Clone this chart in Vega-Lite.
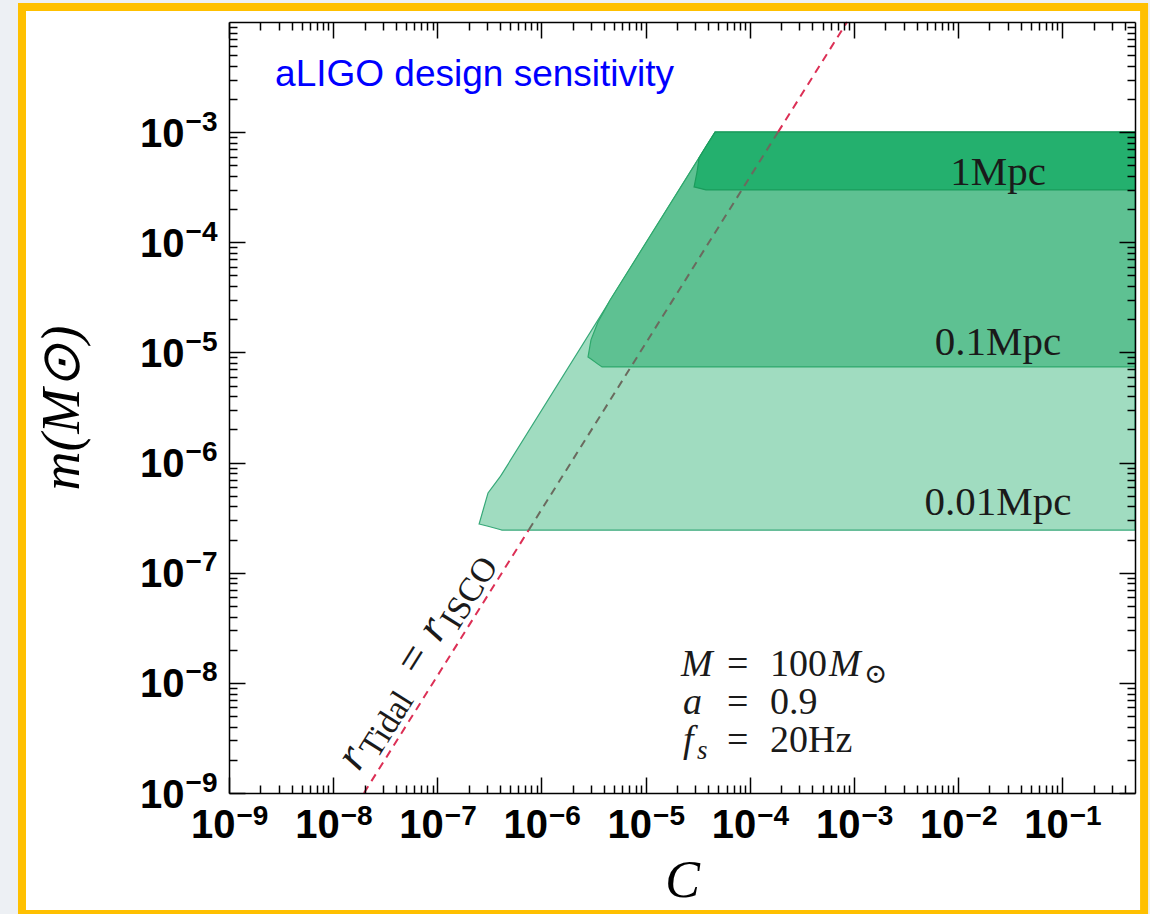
{
  "$schema": "https://vega.github.io/schema/vega-lite/v6.json",
  "width": 906,
  "height": 771,
  "autosize": {"type": "none"},
  "padding": {"left": 229, "top": 22, "right": 15, "bottom": 121},
  "background": "#edf0f4",
  "config": {"view": {"stroke": null}, "axis": {"grid": false}},
  "datasets": {
    "faint": [
      {"C": 2.52e-7, "lo": 2.77e-7, "hi": 2.77e-7},
      {"C": 3.07e-7, "lo": 2.64e-7, "hi": 5.3e-7},
      {"C": 4.0e-7, "lo": 2.47e-7, "hi": 7.4e-7},
      {"C": 4.18e-7, "lo": 2.44e-7, "hi": 7.9e-7},
      {"C": 4.65e-5, "lo": 2.44e-7, "hi": 1e-3},
      {"C": 0.5, "lo": 2.44e-7, "hi": 1e-3}
    ],
    "mid": [
      {"C": 2.80e-6, "lo": 9.1e-6, "hi": 9.1e-6},
      {"C": 2.99e-6, "lo": 8.7e-6, "hi": 1.30e-5},
      {"C": 3.49e-6, "lo": 7.83e-6, "hi": 1.89e-5},
      {"C": 3.82e-6, "lo": 7.38e-6, "hi": 2.2e-5},
      {"C": 4.56e-6, "lo": 7.38e-6, "hi": 2.99e-5},
      {"C": 4.65e-5, "lo": 7.38e-6, "hi": 1e-3},
      {"C": 0.5, "lo": 7.38e-6, "hi": 1e-3}
    ],
    "deep": [
      {"C": 2.92e-5, "lo": 3.18e-4, "hi": 3.18e-4},
      {"C": 3.12e-5, "lo": 3.13e-4, "hi": 4.35e-4},
      {"C": 3.26e-5, "lo": 3.10e-4, "hi": 5.82e-4},
      {"C": 3.80e-5, "lo": 2.99e-4, "hi": 7.4e-4},
      {"C": 4.65e-5, "lo": 2.99e-4, "hi": 1e-3},
      {"C": 0.5, "lo": 2.99e-4, "hi": 1e-3}
    ],
    "tidal": [
      {"C": 1.977e-8, "m": 1e-9, "part": "a", "tone": "outside"},
      {"C": 7.546e-7, "m": 2.44e-7, "part": "a", "tone": "outside"},
      {"C": 7.546e-7, "m": 2.44e-7, "part": "b", "tone": "inside"},
      {"C": 1.868e-4, "m": 1e-3, "part": "b", "tone": "inside"},
      {"C": 1.868e-4, "m": 1e-3, "part": "c", "tone": "outside"},
      {"C": 8.59e-4, "m": 1e-2, "part": "c", "tone": "outside"}
    ],
    "bands": [
      {"C": 0.0242, "m": 3.31e-4, "txt": "1Mpc"},
      {"C": 0.0242, "m": 9.48e-6, "txt": "0.1Mpc"},
      {"C": 0.0242, "m": 3.34e-7, "txt": "0.01Mpc"}
    ],
    "headline": [
      {"C": 2.77e-9, "m": 2.62e-3, "txt": "aLIGO design sensitivity"}
    ],
    "paramSymbols": [
      {"C": 2.187e-5, "m": 1.154e-8, "txt": "M"},
      {"C": 5.766e-4, "m": 1.154e-8, "txt": "M"},
      {"C": 2.286e-5, "m": 5.216e-9, "txt": "a"},
      {"C": 2.286e-5, "m": 2.357e-9, "txt": "f"}
    ],
    "paramValues": [
      {"C": 6.047e-5, "m": 1.154e-8, "txt": "="},
      {"C": 1.564e-4, "m": 1.154e-8, "txt": "100"},
      {"C": 6.047e-5, "m": 5.216e-9, "txt": "="},
      {"C": 1.564e-4, "m": 5.216e-9, "txt": "0.9"},
      {"C": 6.047e-5, "m": 2.357e-9, "txt": "="},
      {"C": 1.564e-4, "m": 2.357e-9, "txt": "20Hz"}
    ],
    "paramSubs": [
      {"C": 3.115e-5, "m": 2.035e-9, "txt": "s"}
    ],
    "paramSun": [
      {"C": 1.250e-3, "m": 9.97e-9, "txt": "\u2299"}
    ],
    "radiusSymbols": [
      {"C": 1.763e-8, "m": 1.545e-9, "txt": "r"},
      {"C": 1.050e-7, "m": 2.279e-8, "txt": "r"}
    ],
    "radiusEquals": [
      {"C": 6.567e-8, "m": 1.122e-8, "txt": "="}
    ],
    "radiusSubs": [
      {"C": 2.638e-8, "m": 1.991e-9, "txt": "Tidal"},
      {"C": 1.571e-7, "m": 2.938e-8, "txt": "ISCO"}
    ]
  },
  "layer": [
    {
      "data": {"values": [{}]},
      "mark": {"type": "rect", "fill": "white", "stroke": "#ffc000", "strokeWidth": 8, "clip": false},
      "encoding": {
        "x": {"datum": 1.029e-11, "type": "quantitative", "scale": {"type": "log", "domain": [1e-9, 0.5], "nice": false}, "axis": null},
        "x2": {"datum": 0.6111},
        "y": {"datum": 7.96e-11, "type": "quantitative", "scale": {"type": "log", "domain": [1e-9, 0.01], "nice": false}, "axis": null},
        "y2": {"datum": 0.01369}
      }
    },
    {
      "data": {"name": "faint"},
      "mark": {"type": "area", "fill": "#a0dcc0", "stroke": "#36a878", "strokeWidth": 1.2},
      "encoding": {
        "x": {"field": "C", "type": "quantitative", "scale": {"type": "log", "domain": [1e-9, 0.5], "nice": false},
          "axis": {"orient": "bottom", "values": [1e-9, 1e-8, 1e-7, 1e-6, 1e-5, 1e-4, 1e-3, 1e-2, 1e-1],
            "labelExpr": "'10'",
            "tickSize": -16, "tickWidth": 1.5, "tickColor": "black", "domainColor": "black", "domainWidth": 1.5,
            "labelFont": "Liberation Sans", "labelFontWeight": "bold", "labelFontSize": 40, "labelColor": "black",
            "labelPadding": 60, "labelBaseline": "alphabetic", "labelAlign": "right", "labelOffset": 6, "labelFlush": false, "labelOverlap": false,
            "title": "C", "titleFont": "Liberation Serif", "titleFontStyle": "italic", "titleFontWeight": "normal", "titleFontSize": 52, "titleColor": "black", "titlePadding": 10,
            "zindex": 1}},
        "y": {"field": "lo", "type": "quantitative", "scale": {"type": "log", "domain": [1e-9, 0.01], "nice": false},
          "axis": {"orient": "left", "values": [1e-9, 1e-8, 1e-7, 1e-6, 1e-5, 1e-4, 1e-3],
            "labelExpr": "'10'",
            "tickSize": -16, "tickWidth": 1.5, "tickColor": "black", "domainColor": "black", "domainWidth": 1.5,
            "labelFont": "Liberation Sans", "labelFontWeight": "bold", "labelFontSize": 40, "labelColor": "black",
            "labelPadding": 61, "labelBaseline": "alphabetic", "labelAlign": "right", "labelOffset": 14, "labelFlush": false, "labelOverlap": false,
            "title": "m(M\u2299)", "titleFont": "Liberation Serif", "titleFontStyle": "italic", "titleFontWeight": "normal", "titleFontSize": 54, "titleColor": "black", "titlePadding": 50,
            "zindex": 1}},
        "y2": {"field": "hi"}
      }
    },
    {
      "data": {"name": "mid"},
      "mark": {"type": "area", "fill": "#5ec192", "stroke": "#2ea86c", "strokeWidth": 1.2},
      "encoding": {
        "x": {"field": "C", "type": "quantitative", "scale": {"type": "log", "domain": [1e-9, 0.5], "nice": false},
          "axis": {"orient": "top", "values": [1e-9, 1e-8, 1e-7, 1e-6, 1e-5, 1e-4, 1e-3, 1e-2, 1e-1],
            "labels": false, "tickSize": -16, "tickWidth": 1.5, "tickColor": "black", "domainColor": "black", "domainWidth": 1.5,
            "title": null, "zindex": 1}},
        "y": {"field": "lo", "type": "quantitative", "scale": {"type": "log", "domain": [1e-9, 0.01], "nice": false},
          "axis": {"orient": "right", "values": [1e-9, 1e-8, 1e-7, 1e-6, 1e-5, 1e-4, 1e-3],
            "labels": false, "tickSize": -16, "tickWidth": 1.5, "tickColor": "black", "domainColor": "black", "domainWidth": 1.5,
            "title": null, "zindex": 1}},
        "y2": {"field": "hi"}
      }
    },
    {
      "data": {"name": "deep"},
      "mark": {"type": "area", "fill": "#24b06e", "stroke": "#1a9c5c", "strokeWidth": 1.2},
      "encoding": {
        "x": {"field": "C", "type": "quantitative", "scale": {"type": "log", "domain": [1e-9, 0.5], "nice": false},
          "axis": {"orient": "bottom", "values": [2e-9, 3e-9, 4e-9, 5e-9, 6e-9, 7e-9, 8e-9, 9e-9, 2e-8, 3e-8, 4e-8, 5e-8, 6e-8, 7e-8, 8e-8, 9e-8, 2e-7, 3e-7, 4e-7, 5e-7, 6e-7, 7e-7, 8e-7, 9e-7, 2e-6, 3e-6, 4e-6, 5e-6, 6e-6, 7e-6, 8e-6, 9e-6, 2e-5, 3e-5, 4e-5, 5e-5, 6e-5, 7e-5, 8e-5, 9e-5, 2e-4, 3e-4, 4e-4, 5e-4, 6e-4, 7e-4, 8e-4, 9e-4, 2e-3, 3e-3, 4e-3, 5e-3, 6e-3, 7e-3, 8e-3, 9e-3, 2e-2, 3e-2, 4e-2, 5e-2, 6e-2, 7e-2, 8e-2, 9e-2, 0.2, 0.3, 0.4],
            "labels": false, "domain": false, "tickSize": -8, "tickWidth": 1.5, "tickColor": "black",
            "title": null, "zindex": 1}},
        "y": {"field": "lo", "type": "quantitative", "scale": {"type": "log", "domain": [1e-9, 0.01], "nice": false},
          "axis": {"orient": "left", "values": [2e-9, 3e-9, 4e-9, 5e-9, 6e-9, 7e-9, 8e-9, 9e-9, 2e-8, 3e-8, 4e-8, 5e-8, 6e-8, 7e-8, 8e-8, 9e-8, 2e-7, 3e-7, 4e-7, 5e-7, 6e-7, 7e-7, 8e-7, 9e-7, 2e-6, 3e-6, 4e-6, 5e-6, 6e-6, 7e-6, 8e-6, 9e-6, 2e-5, 3e-5, 4e-5, 5e-5, 6e-5, 7e-5, 8e-5, 9e-5, 2e-4, 3e-4, 4e-4, 5e-4, 6e-4, 7e-4, 8e-4, 9e-4, 2e-3, 3e-3, 4e-3, 5e-3, 6e-3, 7e-3, 8e-3, 9e-3],
            "labels": false, "domain": false, "tickSize": -8, "tickWidth": 1.5, "tickColor": "black",
            "title": null, "zindex": 1}},
        "y2": {"field": "hi"}
      }
    },
    {
      "mark": {"type": "rule", "stroke": "#555555", "strokeDash": [9, 6], "strokeWidth": 1.5},
      "encoding": {
        "y": {"datum": 0.001, "type": "quantitative", "scale": {"type": "log", "domain": [1e-9, 0.01], "nice": false}, "axis": null}
      }
    },
    {
      "data": {"name": "tidal"},
      "mark": {"type": "line", "strokeDash": [8, 6], "strokeWidth": 2},
      "encoding": {
        "x": {"field": "C", "type": "quantitative", "scale": {"type": "log", "domain": [1e-9, 0.5], "nice": false},
          "axis": {"orient": "top", "values": [2e-9, 3e-9, 4e-9, 5e-9, 6e-9, 7e-9, 8e-9, 9e-9, 2e-8, 3e-8, 4e-8, 5e-8, 6e-8, 7e-8, 8e-8, 9e-8, 2e-7, 3e-7, 4e-7, 5e-7, 6e-7, 7e-7, 8e-7, 9e-7, 2e-6, 3e-6, 4e-6, 5e-6, 6e-6, 7e-6, 8e-6, 9e-6, 2e-5, 3e-5, 4e-5, 5e-5, 6e-5, 7e-5, 8e-5, 9e-5, 2e-4, 3e-4, 4e-4, 5e-4, 6e-4, 7e-4, 8e-4, 9e-4, 2e-3, 3e-3, 4e-3, 5e-3, 6e-3, 7e-3, 8e-3, 9e-3, 2e-2, 3e-2, 4e-2, 5e-2, 6e-2, 7e-2, 8e-2, 9e-2, 0.2, 0.3, 0.4],
            "labels": false, "domain": false, "tickSize": -8, "tickWidth": 1.5, "tickColor": "black",
            "title": null, "zindex": 1}},
        "y": {"field": "m", "type": "quantitative", "scale": {"type": "log", "domain": [1e-9, 0.01], "nice": false},
          "axis": {"orient": "right", "values": [2e-9, 3e-9, 4e-9, 5e-9, 6e-9, 7e-9, 8e-9, 9e-9, 2e-8, 3e-8, 4e-8, 5e-8, 6e-8, 7e-8, 8e-8, 9e-8, 2e-7, 3e-7, 4e-7, 5e-7, 6e-7, 7e-7, 8e-7, 9e-7, 2e-6, 3e-6, 4e-6, 5e-6, 6e-6, 7e-6, 8e-6, 9e-6, 2e-5, 3e-5, 4e-5, 5e-5, 6e-5, 7e-5, 8e-5, 9e-5, 2e-4, 3e-4, 4e-4, 5e-4, 6e-4, 7e-4, 8e-4, 9e-4, 2e-3, 3e-3, 4e-3, 5e-3, 6e-3, 7e-3, 8e-3, 9e-3],
            "labels": false, "domain": false, "tickSize": -8, "tickWidth": 1.5, "tickColor": "black",
            "title": null, "zindex": 1}},
        "color": {"field": "tone", "type": "nominal", "scale": {"domain": ["outside", "inside"], "range": ["#dc2f55", "#6a6a5e"]}, "legend": null},
        "detail": {"field": "part"}
      }
    },
    {
      "data": {"name": "bands"},
      "mark": {"type": "text", "font": "Liberation Serif", "fontSize": 41, "align": "center", "baseline": "alphabetic", "color": "#1a1a1a"},
      "encoding": {
        "x": {"field": "C", "type": "quantitative", "scale": {"type": "log", "domain": [1e-9, 0.5], "nice": false},
          "axis": {"orient": "bottom", "values": [1e-9, 1e-8, 1e-7, 1e-6, 1e-5, 1e-4, 1e-3, 1e-2, 1e-1],
            "labelExpr": "'\u2212' + round(-log(datum.value)/LN10)",
            "ticks": false, "domain": false,
            "labelFont": "Liberation Sans", "labelFontWeight": "bold", "labelFontSize": 28, "labelColor": "black",
            "labelPadding": 31, "labelBaseline": "alphabetic", "labelAlign": "left", "labelOffset": 7, "labelFlush": false, "labelOverlap": false,
            "title": null, "zindex": 1}},
        "y": {"field": "m", "type": "quantitative", "scale": {"type": "log", "domain": [1e-9, 0.01], "nice": false},
          "axis": {"orient": "left", "values": [1e-9, 1e-8, 1e-7, 1e-6, 1e-5, 1e-4, 1e-3],
            "labelExpr": "'\u2212' + round(-log(datum.value)/LN10)",
            "ticks": false, "domain": false,
            "labelFont": "Liberation Sans", "labelFontWeight": "bold", "labelFontSize": 28, "labelColor": "black",
            "labelPadding": 12, "labelBaseline": "alphabetic", "labelAlign": "right", "labelOffset": -2, "labelFlush": false, "labelOverlap": false,
            "title": null, "zindex": 1}},
        "text": {"field": "txt"}
      }
    },
    {
      "data": {"name": "headline"},
      "mark": {"type": "text", "font": "Liberation Sans", "fontSize": 37, "align": "left", "baseline": "alphabetic", "color": "#0000ff"},
      "encoding": {
        "x": {"field": "C", "type": "quantitative", "scale": {"type": "log", "domain": [1e-9, 0.5], "nice": false}, "axis": null},
        "y": {"field": "m", "type": "quantitative", "scale": {"type": "log", "domain": [1e-9, 0.01], "nice": false}, "axis": null},
        "text": {"field": "txt"}
      }
    },
    {
      "data": {"name": "paramSymbols"},
      "mark": {"type": "text", "font": "Liberation Serif", "fontStyle": "italic", "fontSize": 38, "align": "left", "baseline": "alphabetic", "color": "#1a1a1a"},
      "encoding": {
        "x": {"field": "C", "type": "quantitative", "scale": {"type": "log", "domain": [1e-9, 0.5], "nice": false}, "axis": null},
        "y": {"field": "m", "type": "quantitative", "scale": {"type": "log", "domain": [1e-9, 0.01], "nice": false}, "axis": null},
        "text": {"field": "txt"}
      }
    },
    {
      "data": {"name": "paramValues"},
      "mark": {"type": "text", "font": "Liberation Serif", "fontSize": 38, "align": "left", "baseline": "alphabetic", "color": "#1a1a1a"},
      "encoding": {
        "x": {"field": "C", "type": "quantitative", "scale": {"type": "log", "domain": [1e-9, 0.5], "nice": false}, "axis": null},
        "y": {"field": "m", "type": "quantitative", "scale": {"type": "log", "domain": [1e-9, 0.01], "nice": false}, "axis": null},
        "text": {"field": "txt"}
      }
    },
    {
      "data": {"name": "paramSubs"},
      "mark": {"type": "text", "font": "Liberation Serif", "fontStyle": "italic", "fontSize": 27, "align": "left", "baseline": "alphabetic", "color": "#1a1a1a"},
      "encoding": {
        "x": {"field": "C", "type": "quantitative", "scale": {"type": "log", "domain": [1e-9, 0.5], "nice": false}, "axis": null},
        "y": {"field": "m", "type": "quantitative", "scale": {"type": "log", "domain": [1e-9, 0.01], "nice": false}, "axis": null},
        "text": {"field": "txt"}
      }
    },
    {
      "data": {"name": "paramSun"},
      "mark": {"type": "text", "font": "DejaVu Serif", "fontSize": 28, "align": "left", "baseline": "alphabetic", "color": "#1a1a1a"},
      "encoding": {
        "x": {"field": "C", "type": "quantitative", "scale": {"type": "log", "domain": [1e-9, 0.5], "nice": false}, "axis": null},
        "y": {"field": "m", "type": "quantitative", "scale": {"type": "log", "domain": [1e-9, 0.01], "nice": false}, "axis": null},
        "text": {"field": "txt"}
      }
    },
    {
      "data": {"name": "radiusSymbols"},
      "mark": {"type": "text", "font": "Liberation Serif", "fontStyle": "italic", "fontSize": 46, "align": "left", "baseline": "alphabetic", "angle": 302.1, "color": "#1a1a1a"},
      "encoding": {
        "x": {"field": "C", "type": "quantitative", "scale": {"type": "log", "domain": [1e-9, 0.5], "nice": false}, "axis": null},
        "y": {"field": "m", "type": "quantitative", "scale": {"type": "log", "domain": [1e-9, 0.01], "nice": false}, "axis": null},
        "text": {"field": "txt"}
      }
    },
    {
      "data": {"name": "radiusEquals"},
      "mark": {"type": "text", "font": "Liberation Serif", "fontSize": 46, "align": "left", "baseline": "alphabetic", "angle": 302.1, "color": "#1a1a1a"},
      "encoding": {
        "x": {"field": "C", "type": "quantitative", "scale": {"type": "log", "domain": [1e-9, 0.5], "nice": false}, "axis": null},
        "y": {"field": "m", "type": "quantitative", "scale": {"type": "log", "domain": [1e-9, 0.01], "nice": false}, "axis": null},
        "text": {"field": "txt"}
      }
    },
    {
      "data": {"name": "radiusSubs"},
      "mark": {"type": "text", "font": "Liberation Serif", "fontSize": 34, "align": "left", "baseline": "alphabetic", "angle": 302.1, "color": "#1a1a1a"},
      "encoding": {
        "x": {"field": "C", "type": "quantitative", "scale": {"type": "log", "domain": [1e-9, 0.5], "nice": false}, "axis": null},
        "y": {"field": "m", "type": "quantitative", "scale": {"type": "log", "domain": [1e-9, 0.01], "nice": false}, "axis": null},
        "text": {"field": "txt"}
      }
    }
  ],
  "resolve": {"axis": {"x": "independent", "y": "independent"}}
}
